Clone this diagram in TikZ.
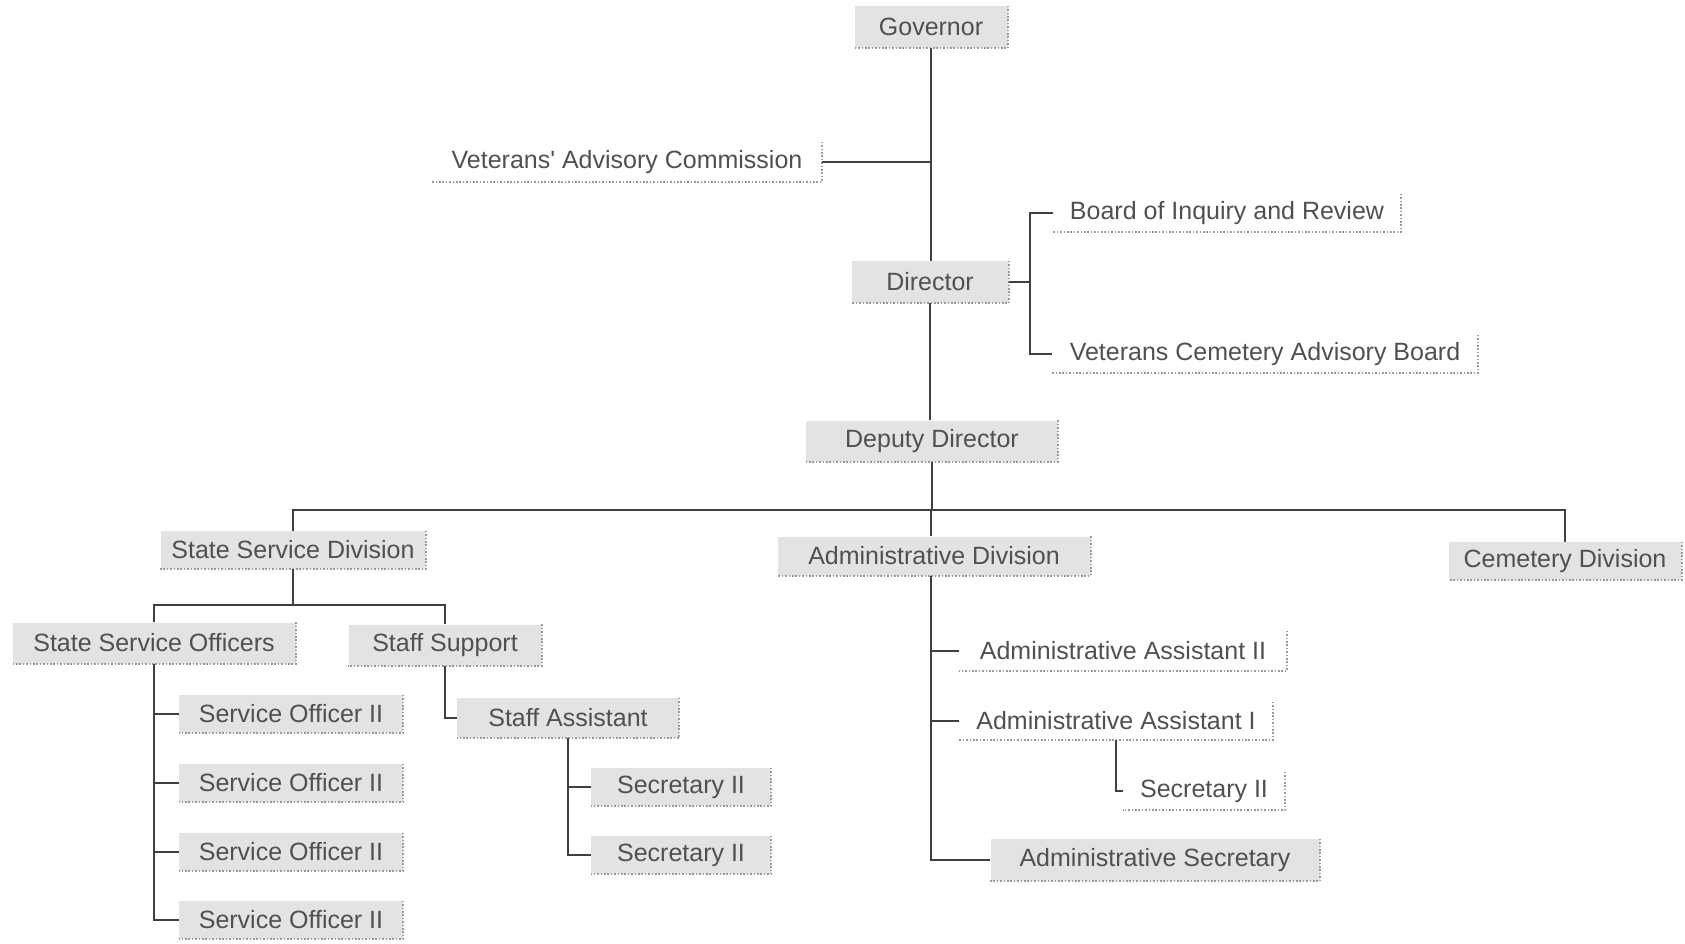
\documentclass[tikz,border=0pt]{standalone}
\usepackage{fontspec}
\setmainfont{Liberation Sans}
\definecolor{txtgray}{HTML}{505050}
\definecolor{boxgray}{HTML}{E3E3E3}
\definecolor{dotgray}{HTML}{9A9A9A}
\definecolor{linegray}{HTML}{404040}
\begin{document}
\begin{tikzpicture}[x=1pt,y=-1pt,
  base/.style={inner sep=0pt, text=txtgray, font=\fontsize{25}{30}\selectfont},
  gbox/.style={base, fill=boxgray},
  wbox/.style={base},
  conn/.style={draw=linegray, line width=1.8pt},
  dotedge/.style={draw=dotgray, line width=1.6pt, dash pattern=on 1.6pt off 1.8pt}
]
\useasboundingbox (0,0) rectangle (1685,944);
% nodes
\node[gbox, minimum width=153pt, minimum height=42pt] (gov) at (931,27) {Governor};
\node[wbox, minimum width=389pt, minimum height=40pt] (vac) at (627,162) {Veterans\textquotesingle{} Advisory Commission};
\node[wbox, minimum width=347pt, minimum height=38pt] (boir) at (1227,213) {Board of Inquiry and Review};
\node[gbox, minimum width=157pt, minimum height=42pt] (dir) at (930,282) {Director};
\node[wbox, minimum width=425pt, minimum height=38pt] (vcab) at (1265,354) {Veterans Cemetery Advisory Board};
\node[gbox, minimum width=252pt, minimum height=41pt] (dep) at (932,441) {Deputy Director};
\node[gbox, minimum width=265pt, minimum height=38pt] (ssd) at (293,550) {State Service Division};
\node[gbox, minimum width=313pt, minimum height=39pt] (ad) at (934,556) {Administrative Division};
\node[gbox, minimum width=233pt, minimum height=38pt] (cd) at (1565,561) {Cemetery Division};
\node[gbox, minimum width=283pt, minimum height=41pt] (sso) at (154,643) {State Service Officers};
\node[gbox, minimum width=193pt, minimum height=41pt] (ss) at (445,645) {Staff Support};
\node[gbox, minimum width=224pt, minimum height=38pt] (so1) at (291,714) {Service Officer II};
\node[gbox, minimum width=224pt, minimum height=38pt] (so2) at (291,783) {Service Officer II};
\node[gbox, minimum width=224pt, minimum height=38pt] (so3) at (291,852) {Service Officer II};
\node[gbox, minimum width=224pt, minimum height=38pt] (so4) at (291,920) {Service Officer II};
\node[gbox, minimum width=222pt, minimum height=40pt] (sa) at (568,718) {Staff Assistant};
\node[gbox, minimum width=180pt, minimum height=38pt] (sec1) at (681,787) {Secretary II};
\node[gbox, minimum width=180pt, minimum height=38pt] (sec2) at (681,855) {Secretary II};
\node[wbox, minimum width=327pt, minimum height=40pt] (aa2) at (1123,651) {Administrative Assistant II};
\node[wbox, minimum width=313pt, minimum height=38pt] (aa1) at (1116,721) {Administrative Assistant I};
\node[wbox, minimum width=162pt, minimum height=38pt] (sec3) at (1204,791) {Secretary II};
\node[gbox, minimum width=329pt, minimum height=42pt] (asec) at (1155,860) {Administrative Secretary};
% dotted right and bottom edges
\foreach \n in {gov,vac,boir,dir,vcab,dep,ssd,ad,cd,sso,ss,so1,so2,so3,so4,sa,sec1,sec2,aa2,aa1,sec3,asec}
  \draw[dotedge] (\n.north east) -- (\n.south east) -- (\n.south west);
% connectors
\coordinate (dv) at (1030,0);
\coordinate (bar) at (0,510);
\coordinate (sbar) at (0,605);
\coordinate (av) at (931,0);
\draw[conn] (gov.south) -- (gov.south |- dir.north);
\draw[conn] (vac.east) -- (vac.east -| gov.south);
\draw[conn] (dir.east) -- (dir.east -| dv);
\draw[conn] (boir.west) -- (boir.west -| dv) -- (vcab.west -| dv) -- (vcab.west);
\draw[conn] (dir.south) -- (dir.south |- dep.north);
\draw[conn] (dep.south) -- (dep.south |- bar);
\draw[conn] (ssd.north) -- (ssd.north |- bar) -- (cd.north |- bar) -- (cd.north);
\draw[conn] (av |- bar) -- (av |- ad.north);
\draw[conn] (av |- ad.south) |- (asec.west);
\draw[conn] (aa2.west) -- (aa2.west -| av);
\draw[conn] (aa1.west) -- (aa1.west -| av);
\draw[conn] (aa1.south) |- (sec3.west);
\draw[conn] (ssd.south) -- (ssd.south |- sbar);
\draw[conn] (sso.north) -- (sso.north |- sbar) -- (ss.north |- sbar) -- (ss.north);
\draw[conn] (sso.south) |- (so4.west);
\draw[conn] (so1.west) -- (so1.west -| sso.south);
\draw[conn] (so2.west) -- (so2.west -| sso.south);
\draw[conn] (so3.west) -- (so3.west -| sso.south);
\draw[conn] (ss.south) |- (sa.west);
\draw[conn] (sa.south) |- (sec2.west);
\draw[conn] (sec1.west) -- (sec1.west -| sa.south);
\end{tikzpicture}
\end{document}
